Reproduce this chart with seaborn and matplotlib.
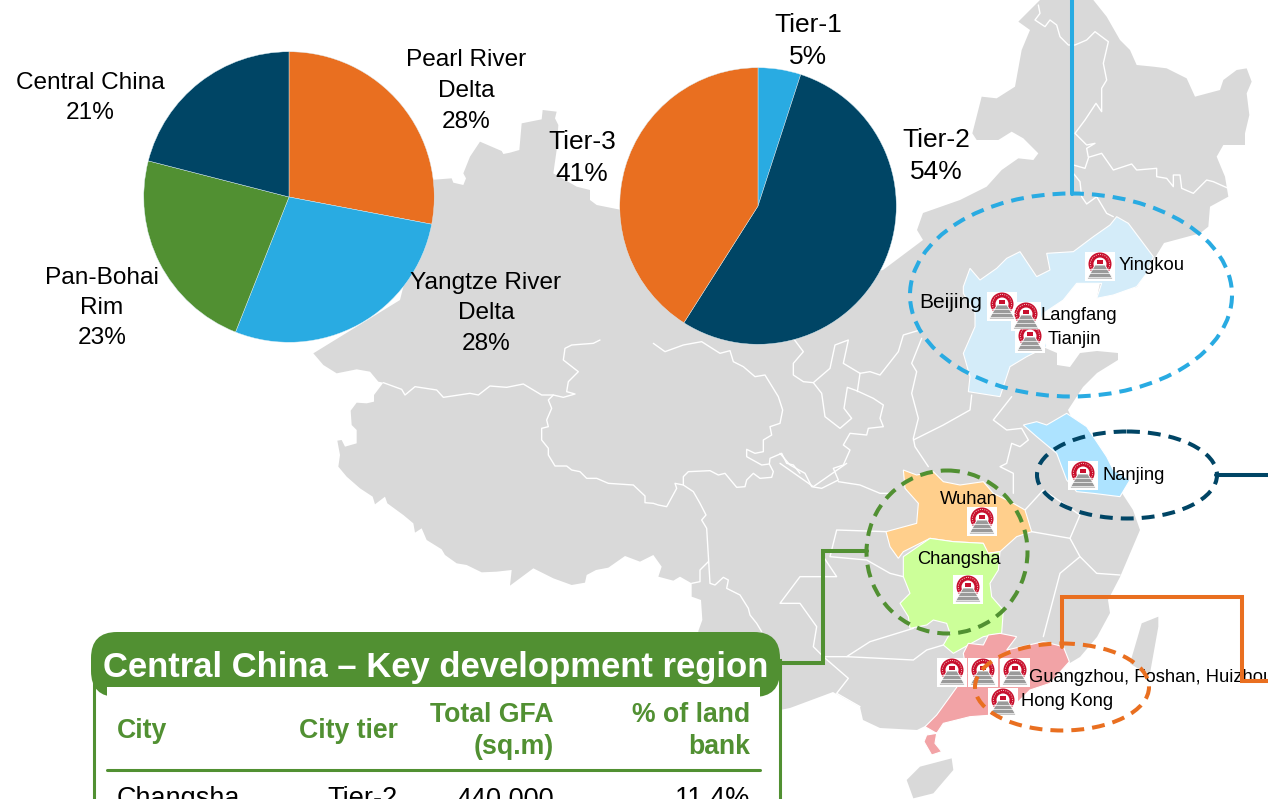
import matplotlib
matplotlib.use("Agg")
import matplotlib.pyplot as plt
import seaborn as sns
from matplotlib.patches import Polygon, Ellipse, Rectangle, Circle, FancyBboxPatch

W, H = 1268, 799

# data
region_names = ["Pearl River\nDelta", "Yangtze River\nDelta", "Pan-Bohai\nRim", "Central China"]
region_share = [28, 28, 23, 21]
tier_names = ["Tier-1", "Tier-2", "Tier-3"]
tier_share = [5, 54, 41]
table_cols = ["City", "City tier", "Total GFA\n(sq.m)", "% of land\nbank"]
table_row = ["Changsha", "Tier-2", "440,000", "11.4%"]

ORANGE, NAVY, BLUE, GREEN = "#E96F20", "#004565", "#29ABE2", "#519032"
GREY = "#D9D9D9"

sns.set_theme(style="white")
plt.rcParams["font.family"] = ["Liberation Sans", "DejaVu Sans"]
region_pal = sns.color_palette([ORANGE, BLUE, GREEN, NAVY])
tier_pal = sns.color_palette([BLUE, NAVY, ORANGE])


def crop(x0, y0, pts):
    # shapes were traced on 3x crops of the picture
    return [(x0 + x / 3, y0 + y / 3) for x, y in pts]


def z1(pts):
    return crop(880, 180, pts)


def z2(pts):
    return crop(780, 460, pts)


fig = plt.figure(figsize=(W / 100, H / 100), dpi=100)
base = fig.add_axes([0, 0, 1, 1])
base.set_xlim(0, W)
base.set_ylim(H, 0)
base.axis("off")

# map outline, traced by eye
ne_west = crop(960, 0, [(240, 0), (230, 10), (175, 65), (210, 90), (185, 150), (165, 260), (110, 295), (65, 290),
                        (37, 400), (50, 420), (115, 420), (155, 395), (190, 415), (235, 460), (220, 480), (175, 475),
                        (125, 510), (80, 560), (0, 600)])
north = [(923, 213), (917, 230), (923, 240), (883, 270), (760, 300), (650, 240)]
bump = crop(430, 90, [(600, 365), (500, 345), (480, 330), (480, 300), (440, 290), (370, 250), (380, 180), (385, 105),
                      (375, 85), (380, 65), (338, 60), (335, 88), (275, 100), (268, 180), (240, 188), (220, 192),
                      (215, 183), (150, 155), (120, 200), (100, 250), (108, 265), (100, 285), (70, 278), (65, 265), (0, 270)])
west = crop(300, 340, [(40, 40), (70, 75), (110, 100), (170, 88), (210, 95), (235, 125), (250, 128), (222, 165),
                       (222, 185), (200, 190), (170, 188), (152, 212), (155, 255), (170, 270), (170, 310), (135, 320),
                       (125, 300), (112, 302), (120, 345), (115, 380), (140, 410), (180, 445), (218, 470), (225, 493),
                       (255, 470), (262, 490), (310, 525), (340, 550), (345, 578), (365, 565), (380, 600), (425, 628),
                       (435, 645), (470, 670), (500, 675), (545, 697), (590, 695), (635, 690), (630, 737), (700, 685),
                       (760, 715), (815, 735), (855, 728), (860, 705), (888, 690), (925, 683), (975, 648), (1020, 665),
                       (1060, 645), (1085, 680), (1075, 710), (1120, 722), (1140, 710), (1175, 730), (1175, 770),
                       (1203, 780), (1207, 840), (1195, 873), (1195, 900)])
south = [(698, 660), (740, 700), (780, 710), (790, 708), (833, 692), (860, 707), (863, 720), (880, 728), (917, 730),
         (927, 725), (1000, 690), (1063, 647), (1070, 663), (1080, 657), (1097, 637), (1110, 613), (1108, 600),
         (1120, 577), (1140, 530), (1133, 510), (1120, 490), (1095, 470), (1068, 410), (1083, 387), (1097, 373),
         (1118, 360), (1118, 353), (1097, 351), (1080, 353), (1070, 367), (1057, 365), (1057, 353), (1043, 347),
         (1040, 313), (1060, 302), (1077, 283), (1100, 283), (1097, 297), (1137, 287), (1164, 243)]
ne_east = crop(960, 0, [(720, 700), (745, 680), (750, 620), (805, 590), (795, 530), (770, 470), (790, 435), (855, 435),
                        (855, 400), (868, 345), (860, 280), (875, 245), (860, 205), (830, 210), (790, 240), (780, 270),
                        (705, 290), (680, 235), (620, 205), (580, 200), (530, 195), (510, 150), (480, 120), (440, 50),
                        (400, 0)])
china = ne_west + north + bump + [(400, 300)] + west + south + ne_east
base.add_patch(Polygon(china, fc=GREY, ec="none", zorder=1))
hainan = z2([(380, 960), (420, 920), (515, 895), (520, 930), (460, 1000), (400, 1015)])
taiwan = z2([(1050, 610), (1085, 490), (1135, 470), (1135, 500), (1110, 640), (1080, 630)])
base.add_patch(Polygon(hainan, fc=GREY, ec="none", zorder=1))
base.add_patch(Polygon(taiwan, fc=GREY, ec="none", zorder=1))

# province borders
borders = [
    crop(300, 340, [(250, 128), (305, 148), (315, 165), (345, 140), (410, 150), (430, 172), (510, 160), (535, 165),
                    (570, 138), (620, 142), (670, 132), (725, 165), (760, 165), (790, 172), (825, 162), (800, 155),
                    (805, 125), (835, 95), (790, 60), (795, 25), (815, 15), (880, 10), (900, 0)]),
    crop(300, 340, [(760, 165), (745, 180), (755, 205), (740, 240), (745, 260), (725, 265), (725, 300), (745, 325),
                    (745, 345), (765, 378), (800, 378), (815, 390), (840, 395), (860, 415), (890, 415), (925, 430),
                    (1000, 435), (1035, 468), (1035, 488), (1060, 490), (1075, 495), (1100, 500), (1130, 445),
                    (1125, 430), (1150, 435), (1180, 455), (1200, 490), (1218, 525), (1205, 540), (1220, 565),
                    (1230, 730), (1245, 735), (1270, 712), (1285, 720), (1280, 745), (1320, 765), (1345, 805),
                    (1350, 825), (1370, 850), (1385, 875)]),
    crop(300, 340, [(1225, 665), (1200, 690), (1200, 725), (1175, 730)]),
    crop(300, 340, [(1060, 10), (1095, 35), (1150, 15), (1205, 5), (1260, 40), (1290, 32), (1300, 65), (1330, 80),
                    (1365, 110), (1395, 105), (1435, 170), (1448, 210), (1440, 250), (1410, 260), (1415, 285),
                    (1390, 300), (1390, 335), (1365, 340), (1340, 328), (1340, 350), (1385, 375), (1408, 372),
                    (1420, 395), (1415, 412), (1380, 415), (1360, 400), (1340, 420), (1335, 440), (1310, 442),
                    (1275, 400), (1255, 405), (1230, 392), (1165, 395), (1150, 410), (1150, 435)]),
    crop(300, 340, [(1408, 372), (1410, 355), (1445, 340), (1460, 370), (1480, 375), (1500, 400)]),
    crop(780, 330, [(40, 25), (70, 65), (40, 100), (40, 135), (70, 155), (100, 158), (125, 190), (135, 260), (180, 295),
                    (215, 265), (192, 235), (202, 172), (230, 182), (280, 205), (310, 225), (300, 265), (310, 290),
                    (265, 295), (260, 315), (210, 310), (190, 345), (210, 360), (190, 405), (160, 415), (175, 450),
                    (125, 475), (95, 470), (75, 430), (30, 405), (0, 370)]),
    crop(780, 330, [(100, 158), (150, 115), (165, 45), (205, 30), (190, 100), (240, 130), (232, 185)]),
    crop(780, 330, [(240, 130), (270, 125), (300, 135), (355, 65), (370, 15), (420, 0)]),
    crop(780, 330, [(425, 25), (395, 100), (410, 125), (395, 190), (415, 265), (400, 325), (405, 350), (445, 410)]),
    crop(780, 330, [(400, 330), (490, 285), (570, 240), (575, 195)]),
    crop(780, 330, [(175, 455), (240, 465), (300, 490), (330, 490)]),
    crop(780, 330, [(695, 200), (640, 270), (680, 300), (725, 295), (745, 330), (720, 350), (695, 340), (680, 400),
                    (660, 410), (700, 430), (700, 490)]),
    crop(960, 0, [(235, 15), (240, 40), (225, 60), (255, 80), (270, 60), (290, 75), (300, 110), (325, 135), (345, 135),
                  (380, 120), (405, 95), (445, 125), (430, 190), (440, 240), (425, 265), (425, 335), (408, 310),
                  (375, 360), (345, 400), (380, 435), (405, 430), (380, 445), (385, 472), (425, 460), (460, 510),
                  (515, 492), (530, 510), (590, 505), (590, 530), (620, 535), (640, 560), (640, 525), (660, 525),
                  (665, 565), (700, 580), (740, 540), (760, 545), (805, 565)]),
    crop(960, 0, [(340, 495), (375, 505), (385, 475)]),
    crop(960, 0, [(340, 520), (360, 545), (365, 590), (380, 612), (410, 590), (440, 640), (460, 650)]),
    z2([(0, 10), (100, 80), (200, 10)]),
    z2([(320, 215), (170, 210), (150, 290), (260, 300), (330, 340), (370, 350)]),
    z2([(130, 290), (170, 350), (60, 350), (0, 430), (60, 430), (110, 500), (100, 560), (130, 590)]),
    z2([(400, 505), (270, 545), (200, 590), (130, 590), (205, 655), (170, 700), (240, 740)]),
    z2([(490, 555), (440, 570), (400, 600), (200, 590)]),
    z2([(755, 215), (870, 235), (900, 290), (840, 340), (790, 530)]),
    z2([(900, 290), (950, 340), (1020, 345)]),
    z2([(735, 150), (790, 90), (900, 165), (870, 235)]),
]
for b in borders:
    base.plot([p[0] for p in b], [p[1] for p in b], color="white", lw=1, zorder=2)

# highlighted provinces
hebei_liaoning = z1([(250, 320), (270, 265), (300, 300), (350, 265), (380, 235), (420, 215), (450, 260),
                     (470, 290), (510, 270), (500, 220), (580, 215), (640, 170), (690, 135), (710, 110),
                     (745, 130), (790, 190), (820, 230), (800, 280), (770, 320), (700, 345), (650, 355),
                     (665, 310), (590, 310), (550, 360), (490, 400), (480, 430), (500, 500), (440, 530),
                     (390, 560), (360, 650), (265, 635), (270, 590), (250, 520), (285, 440), (285, 400), (250, 340)])
jiangsu = z1([(430, 735), (470, 725), (500, 735), (560, 700), (620, 740), (680, 830), (700, 870), (750, 900),
              (720, 950), (640, 940), (590, 935), (560, 900), (530, 820), (470, 770)])
hubei = z2([(370, 30), (410, 45), (460, 35), (490, 65), (540, 75), (610, 65), (640, 100), (700, 130), (735, 150),
            (755, 215), (710, 230), (660, 275), (620, 280), (610, 250), (520, 245), (450, 235), (370, 275),
            (355, 295), (330, 260), (318, 215), (410, 190), (415, 130), (375, 85)])
hunan = z2([(450, 235), (520, 245), (610, 250), (625, 280), (660, 275), (655, 330), (630, 370), (635, 410),
            (670, 450), (665, 520), (610, 530), (520, 580), (490, 555), (510, 520), (500, 490), (460, 480),
            (440, 495), (390, 505), (385, 470), (360, 430), (390, 400), (370, 350), (370, 290)])
guangdong = z2([(565, 550), (610, 555), (625, 525), (660, 520), (710, 530), (680, 570), (790, 545), (850, 560),
                (868, 605), (810, 670), (750, 690), (710, 730), (640, 765), (570, 770), (490, 790), (470, 820),
                (440, 825), (432, 845), (455, 885), (485, 875), (465, 850), (470, 820), (435, 800), (470, 765),
                (510, 710), (560, 640), (550, 580)])
for poly, col in [(hebei_liaoning, "#D4ECF9"), (jiangsu, "#ADE3FF"), (hubei, "#FFCF8C"),
                  (hunan, "#CCFF99"), (guangdong, "#F2A3A6")]:
    base.add_patch(Polygon(poly, fc=col, ec="white", lw=0.8, zorder=3))


# pies
def draw_pie(cx, cy, r, share, pal, start):
    ax = fig.add_axes([(cx - r) / W, 1 - (cy + r) / H, 2 * r / W, 2 * r / H], zorder=2)
    ax.pie(share, colors=pal, startangle=start, counterclock=False,
           wedgeprops={"edgecolor": "#DDEEF5", "linewidth": 0.3})
    ax.set_xlim(-1.005, 1.005)
    ax.set_ylim(-1.005, 1.005)
    ax.patch.set_alpha(0)


draw_pie(289, 197, 146, region_share, region_pal, 90)
draw_pie(758, 206, 139, tier_share, tier_pal, 90)

top = fig.add_axes([0, 0, 1, 1], zorder=3)
top.set_xlim(0, W)
top.set_ylim(H, 0)
top.axis("off")
top.patch.set_alpha(0)

pie_pos = [(466, 91), (486, 313), (102, 308), (90, 98)]
for name, val, (x, y) in zip(region_names, region_share, pie_pos):
    top.text(x, y, "%s\n%d%%" % (name, val), ha="center", va="center", fontsize=17.6, color="black", linespacing=1.5)
tier_pos = [(808, 41), (936, 156), (582, 158)]
for name, val, (x, y) in zip(tier_names, tier_share, tier_pos):
    top.text(x, y, "%s\n%d%%" % (name, val), ha="center", va="center", fontsize=19, color="black", linespacing=1.42)


# company logo markers
def logo(cx, cy):
    top.add_patch(Rectangle((cx - 15, cy - 15), 30, 29, fc="white", ec="none", zorder=4))
    top.add_patch(Circle((cx, cy - 3), 11.5, fc="#C8102E", ec="none", zorder=5))
    top.add_patch(Circle((cx, cy - 3), 9.6, fc="none", ec="#F2C6C6", lw=0.7, ls=(0, (1, 1.4)), zorder=5))
    top.add_patch(Circle((cx, cy - 3), 6.5, fc="white", ec="none", zorder=5))
    top.add_patch(Rectangle((cx - 3, cy - 7), 6, 4, fc="#C8102E", ec="none", zorder=6))
    top.add_patch(Polygon([(cx - 13, cy + 12), (cx + 13, cy + 12), (cx + 5, cy - 2), (cx - 5, cy - 2)],
                          fc="#9A9A9A", ec="white", lw=0.6, zorder=6))
    for dy in [2, 6, 10]:
        top.plot([cx - 13, cx + 13], [cy + dy, cy + dy], color="white", lw=0.5, zorder=7)


logos = [(1100, 267), (1002, 307), (1026, 317), (1030, 339), (1083, 476), (982, 522), (968, 590),
         (952, 673), (983, 673), (1015, 673), (1003, 703)]
for x, y in logos:
    logo(x, y)

city_labels = [("Yingkou", 1119, 266, 13.2), ("Beijing", 919, 303, 15), ("Langfang", 1040, 316, 13.2),
               ("Tianjin", 1048, 339, 13.2), ("Nanjing", 1102, 475, 13.2), ("Wuhan", 940, 500, 13.2),
               ("Changsha", 917, 560, 13.2), ("Guangzhou, Foshan, Huizhou", 1029, 677, 13.2),
               ("Hong Kong", 1021, 702, 13.2)]
for name, x, y, fs in city_labels:
    top.text(x, y, name, ha="left", va="center", fontsize=fs, color="black", zorder=8)

# dashed ellipses and connector lines
ellipses = [(1071, 295, 322, 203, BLUE), (1127, 475, 180, 87, NAVY), (947, 552, 161, 163, GREEN),
            (1062, 687, 174, 87, ORANGE)]
for cx, cy, w, h, col in ellipses:
    top.add_patch(Ellipse((cx, cy), w, h, fc="none", ec=col, lw=2.9, ls=(0, (3.2, 2.0)), zorder=9))
connectors = [([1072, 1072], [0, 194], BLUE), ([1216, 1268], [475, 475], NAVY),
              ([781, 823, 823, 867], [663, 663, 551, 551], GREEN),
              ([1062, 1062, 1242, 1242, 1268], [647, 597, 597, 681, 681], ORANGE)]
for xs, ys, col in connectors:
    top.plot(xs, ys, color=col, lw=2.9, solid_joinstyle="miter", zorder=9)

# table box
top.add_patch(Rectangle((94, 660), 686, 150, fc="white", ec=GREEN, lw=2.2, zorder=10))
top.add_patch(FancyBboxPatch((91 + 30, 632 + 30), 689 - 60, 5, boxstyle="round,pad=30,rounding_size=26",
                             fc=GREEN, ec="none", zorder=11))
top.add_patch(Rectangle((107, 687), 653, 120, fc="white", ec="none", zorder=12))
top.plot([107, 760], [770, 770], color=GREEN, lw=2.2, zorder=13)
top.text(103, 667, "Central China \u2013 Key development region", ha="left", va="center", fontsize=24.9,
         fontweight="bold", color="white", zorder=13)

col_x = [117, 398, 554, 750]
col_ha = ["left", "right", "right", "right"]
for label, x, ha, val in zip(table_cols, col_x, col_ha, table_row):
    top.text(x, 731, label, ha=ha, va="center", fontsize=19.2, fontweight="bold", color=GREEN, linespacing=1.3, zorder=13)
    top.text(x, 806, val, ha=ha, va="baseline", fontsize=19.5, color="black", zorder=13, clip_on=True)

fig.savefig("out.png", dpi=100)
